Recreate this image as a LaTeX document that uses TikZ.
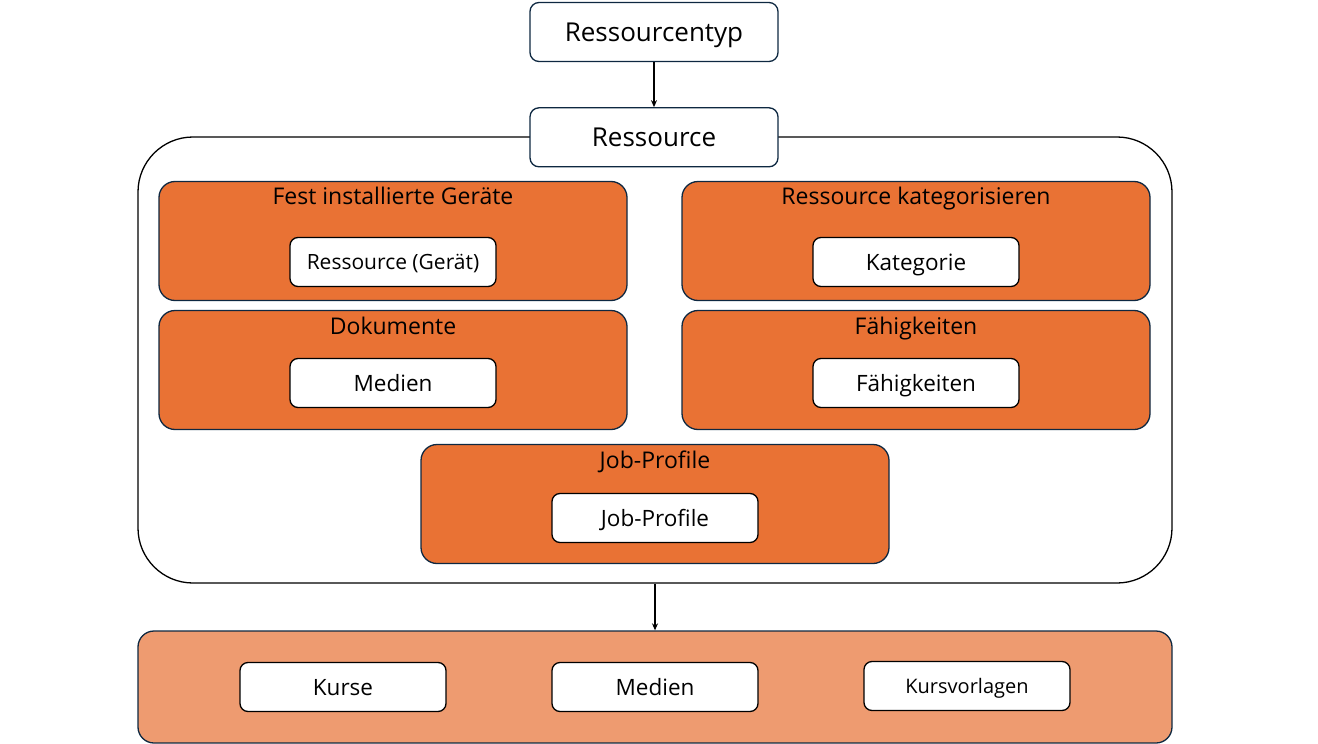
\documentclass[tikz,border=0pt]{standalone}
\usepackage{fontspec}
\setmainfont{Open Sans}
\usetikzlibrary{arrows.meta, positioning}
\definecolor{navy}{HTML}{0E2841}
\definecolor{accent}{HTML}{E97234}
\definecolor{accentlight}{HTML}{EE9B70}

\begin{document}
\begin{tikzpicture}[
    x=1pt, y=-1pt,
    topbox/.style={rectangle, rounded corners=9pt, minimum width=248pt, minimum height=59pt, text height=18.7pt, text depth=0pt, align=center, draw=navy, line width=1.3pt, fill=white, font=\fontsize{26}{30}\selectfont},
    itembox/.style={rectangle, rounded corners=8pt, minimum width=206pt, minimum height=49pt, text height=16.2pt, text depth=0pt, align=center, draw=black, line width=1.3pt, fill=white, font=\fontsize{22.5}{26}\selectfont},
    groupbox/.style={rectangle, rounded corners=16pt, minimum width=468pt, minimum height=119pt, draw=navy, line width=1.3pt, fill=accent},
    grouptitle/.style={inner sep=0pt, text height=16.6pt, text depth=0pt, font=\fontsize{23}{27}\selectfont},
    area/.style={rectangle, rounded corners=55pt, minimum width=1034pt, minimum height=446pt, draw=black, line width=1.3pt, fill=white},
    arrow/.style={-{Stealth[length=7pt, width=6pt]}, line width=1.3pt}
]
\useasboundingbox (0,0) rectangle (1318,744);

% Resource container
\node (resarea) [area] at (655,360) {};
\node (restype) [topbox] at (654,32) {Ressourcentyp};
\node (resource) [topbox, below=45pt of restype] {Ressource};

% Groups: left column
\node (fixed) [groupbox] at (393,241) {};
\node (fixedtitle) [grouptitle] at ([yshift=-15pt]fixed.north) {Fest installierte Geräte};
\node (device) [itembox, text height=15.1pt, font=\fontsize{21}{25}\selectfont, below=56pt of fixed.north] {Ressource (Gerät)};

\node (docs) [groupbox] at (393,370) {};
\node (docstitle) [grouptitle] at ([yshift=-16pt]docs.north) {Dokumente};
\node (media) [itembox, below=48pt of docs.north] {Medien};

% Groups: right column
\node (categorize) [groupbox] at (916,241) {};
\node (categorizetitle) [grouptitle] at ([yshift=-15pt]categorize.north) {Ressource kategorisieren};
\node (category) [itembox, below=56pt of categorize.north] {Kategorie};

\node (skills) [groupbox] at (916,370) {};
\node (skillstitle) [grouptitle] at ([yshift=-16pt]skills.north) {Fähigkeiten};
\node (skill) [itembox, below=48pt of skills.north] {Fähigkeiten};

% Group: job profiles
\node (jobs) [groupbox] at (655,504) {};
\node (jobstitle) [grouptitle] at ([yshift=-16pt]jobs.north) {Job-Profile};
\node (job) [itembox, below=49pt of jobs.north] {Job-Profile};

% Usage
\node (usage) [groupbox, minimum width=1034pt, minimum height=112pt, fill=accentlight] at (655,687) {};
\node (courses) [itembox] at (343,687) {Kurse};
\node (usemedia) [itembox] at (655,687) {Medien};
\node (templates) [itembox, text height=14.4pt, font=\fontsize{20}{24}\selectfont] at (967,686) {Kursvorlagen};

% Arrows
\draw [arrow] (restype) -- (resource);
\draw [arrow] (resarea.south) -- (usage.north);
\end{tikzpicture}
\end{document}
